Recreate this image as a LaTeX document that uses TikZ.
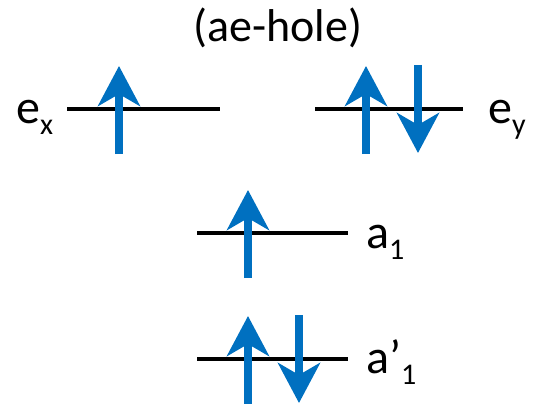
\documentclass[tikz,border=0pt]{standalone}
\usepackage{fontspec}
\setmainfont{Carlito}
\usetikzlibrary{arrows.meta}
\definecolor{spinblue}{RGB}{0,112,192}
\tikzset{
  level/.style={line width=4.5pt, black},
  spin/.style={line width=7.5pt, spinblue, -{Stealth[width=42pt,length=40pt,inset=12pt]}},
  lbl/.style={anchor=base west, inner sep=0pt, font=\fontsize{48}{50}\selectfont},
}
\newcommand{\sbs}[1]{\raisebox{-11pt}{\fontsize{30}{32}\selectfont #1}}
\begin{document}
\begin{tikzpicture}[x=1pt,y=-1pt]
\useasboundingbox (0,0) rectangle (533,404);
% title
\node[inner sep=0pt, anchor=base, font=\fontsize{46}{48}\selectfont] (title) at (278,42) {(ae-hole)};
% levels
\coordinate (exL) at (67,109); \coordinate (exR) at (220,109);
\coordinate (eyL) at (315,109); \coordinate (eyR) at (463,109);
\coordinate (a1L) at (197,233); \coordinate (a1R) at (348,233);
\coordinate (a2L) at (197,359); \coordinate (a2R) at (348,359);
\draw[level] (exL) -- (exR);
\draw[level] (eyL) -- (eyR);
\draw[level] (a1L) -- (a1R);
\draw[level] (a2L) -- (a2R);
% spins
\coordinate (s1a) at (119,154); \coordinate (s1b) at (119,66);
\coordinate (s2a) at (366,154); \coordinate (s2b) at (366,66);
\coordinate (s3a) at (418,65);  \coordinate (s3b) at (418,153);
\coordinate (s4a) at (248,278); \coordinate (s4b) at (248,190);
\coordinate (s5a) at (248,404); \coordinate (s5b) at (248,316);
\coordinate (s6a) at (299,315); \coordinate (s6b) at (299,403);
\draw[spin] (s1a) -- (s1b);
\draw[spin] (s2a) -- (s2b);
\draw[spin] (s3a) -- (s3b);
\draw[spin] (s4a) -- (s4b);
\draw[spin] (s5a) -- (s5b);
\draw[spin] (s6a) -- (s6b);
% labels
\node[lbl] (ex) at (16,123) {e\sbs{x}};
\node[lbl] (ey) at (488,123) {e\sbs{y}};
\node[lbl] (a1) at (366,248) {a\sbs{1}};
\node[lbl] (a2) at (366,373) {a’\sbs{1}};
\end{tikzpicture}
\end{document}
